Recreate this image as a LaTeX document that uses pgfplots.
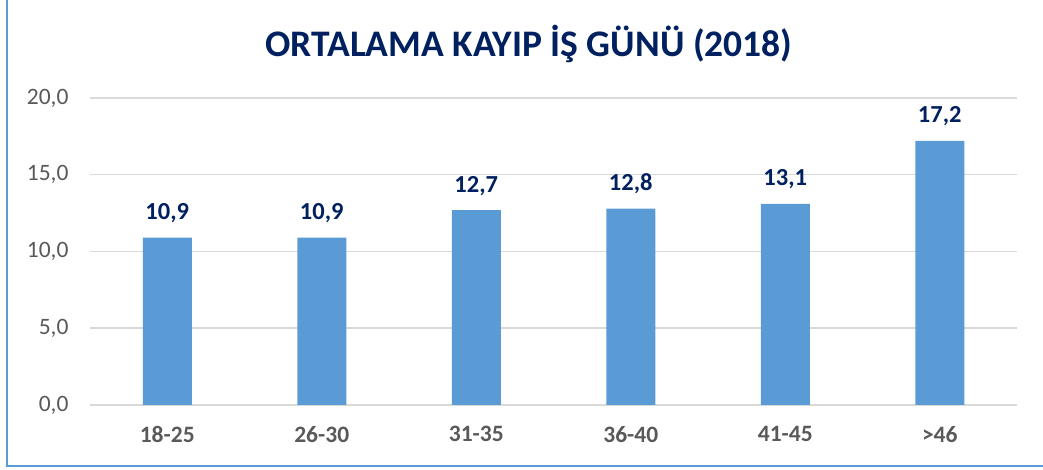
\documentclass[border=0pt]{standalone}
\usepackage{fontspec}
\setmainfont{Carlito}
\usepackage{pgfplots}
\pgfplotsset{compat=1.18}
\definecolor{barblue}{HTML}{5B9BD5}
\definecolor{navy}{HTML}{002060}
\definecolor{tgray}{HTML}{595959}
\definecolor{gridgray}{HTML}{D9D9D9}
\begin{document}
\begin{tikzpicture}[x=1pt,y=1pt]
\useasboundingbox (0,0) rectangle (1043,470);
\draw[barblue, line width=2pt] (7,471) -- (7,4) -- (1044,4);
\node[navy, font=\fontsize{37.5}{40}\selectfont\bfseries] at (529,426) {ORTALAMA KAYIP İŞ GÜNÜ (2018)};
\begin{axis}[
  at={(90pt,65pt)}, anchor=south west,
  width=927pt, height=307pt, scale only axis,
  xmin=-0.5, xmax=5.5, ymin=0, ymax=20,
  ytick={0,5,10,15,20},
  xtick={0,1,2,3,4,5},
  xticklabels={18-25,26-30,31-35,36-40,41-45,>46},
  axis line style={draw=none},
  ymajorgrids, grid style={gridgray, line width=1.5pt},
  major tick length=0pt,
  /pgf/number format/assume math mode=true,
  yticklabel={\pgfmathprintnumber[fixed,fixed zerofill,precision=1,use comma]{\tick}},
  yticklabel style={font=\fontsize{23.5}{27}\selectfont, text=tgray, anchor=east, xshift=-18pt},
  xticklabel style={font=\fontsize{23.5}{27}\selectfont\bfseries, text=tgray, anchor=north, yshift=-18pt},
  ybar, bar width=49pt,
  nodes near coords={\pgfmathprintnumber[fixed,fixed zerofill,precision=1,use comma]{\pgfplotspointmeta}},
  every node near coord/.append style={font=\fontsize{24.5}{27}\selectfont\bfseries, text=navy, anchor=base, yshift=18pt},
  clip=false,
]
\addplot[fill=barblue, draw=none] coordinates {(0,10.9) (1,10.9) (2,12.7) (3,12.8) (4,13.1) (5,17.2)};
\end{axis}
\end{tikzpicture}
\end{document}
